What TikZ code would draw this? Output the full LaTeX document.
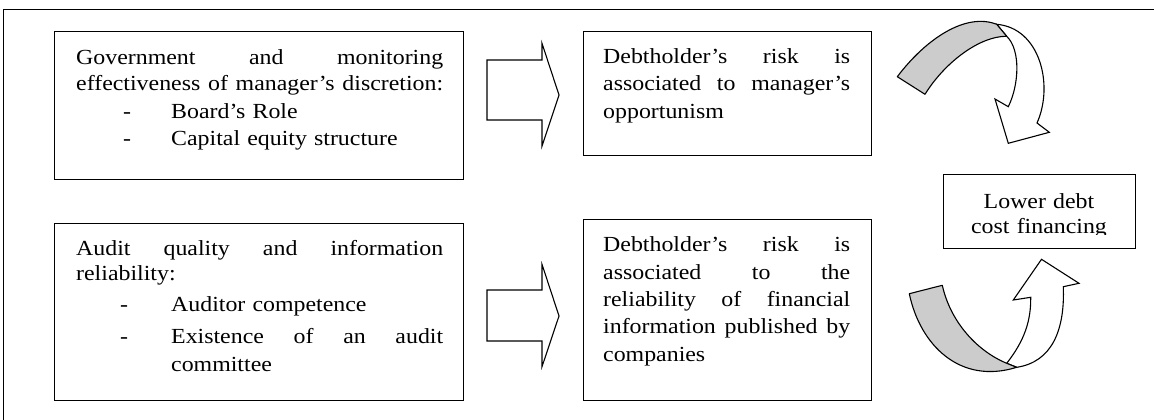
\documentclass[tikz,border=0pt]{standalone}
\usepackage{fontspec}
\setmainfont{Liberation Serif}[FakeStretch=1.11]
\usetikzlibrary{calc}
\definecolor{bandgray}{RGB}{204,204,204}
\newcommand{\jline}[2]{\leavevmode\hbox to #1{\spaceskip=3pt plus 1fil\relax #2}}
\begin{document}
\begin{tikzpicture}[x=1pt,y=-1pt,
  box/.style={draw, line width=1.1pt, inner sep=0pt, anchor=north west},
  txt/.style={inner sep=0pt, anchor=base west, align=left, font=\fontsize{21.5}{27.4}\selectfont},
  blk/.style={draw, line width=1.1pt, fill=white, line join=miter},
  band/.style={draw, line width=1.1pt, fill=bandgray, line join=round},
  wband/.style={draw, line width=1.1pt, fill=white, line join=miter}]
\useasboundingbox (0,0) rectangle (1154,420);
% outer frame
\draw[line width=1.8pt, line join=miter] (1154,9.5) -- (3.5,9.5) -- (3.5,420);
% boxes
\node[box, minimum width=409, minimum height=148] (b1) at (54,31) {};
\node[box, minimum width=288, minimum height=124] (b2) at (583,31) {};
\node[box, minimum width=409, minimum height=177] (b3) at (54,223) {};
\node[box, minimum width=288, minimum height=181] (b4) at (583,219) {};
\node[box, minimum width=192, minimum height=74] (b5) at (943,174) {};
% texts
\node[txt, text width=367] (t1) at (76,64.3) {\jline{367pt}{Government and monitoring}\\[-1.7pt]
\jline{367pt}{effectiveness of manager’s discretion:}\\[0.9pt]
\makebox[95pt][l]{\hspace*{47pt}-}Board’s Role\\
\makebox[95pt][l]{\hspace*{47pt}-}Capital equity structure};
\node[txt, text width=367] (t3) at (76,255) {\jline{367pt}{Audit quality and information}\\[-2.4pt]
reliability:\\[4.3pt]
\makebox[95pt][l]{\hspace*{44pt}-}Auditor competence\\[4.2pt]
\makebox[95pt][l]{\hspace*{44pt}-}\jline{272pt}{Existence of an audit}\\[1pt]
\hspace*{95pt}committee};
\node[txt, text width=247] (t2) at (603,63.3) {\jline{247pt}{Debtholder’s risk is}\\
\jline{247pt}{associated to manager’s}\\
opportunism};
\node[txt, text width=247] (t4) at (603,251.7) {\jline{247pt}{Debtholder’s risk is}\\
\jline{247pt}{associated to the}\\
\jline{247pt}{reliability of financial}\\
\jline{247pt}{information published by}\\
companies};
\begin{scope}
\clip (943,174) rectangle (1135,234.5);
\node[txt, anchor=base, align=center, text width=192] (t5) at (1039,208.3) {Lower debt\\[-2.4pt]cost financing};
\end{scope}
% block arrows
\draw[blk] (487,60) -- (542,60) -- (542,43.3) -- (559,95) -- (542,146) -- (542,120) -- (487,120) -- cycle;
\draw[blk] (487,290) -- (542,290) -- (542,264.3) -- (559,316) -- (542,366.7) -- (542,341) -- (487,341) -- cycle;
% curved arrow top
\draw[wband] (996.7,24.3) .. controls (1040,28) and (1054,85) .. (1037,123) -- (1049.3,132.3) -- (1008.3,143.3) -- (995,99) -- (1008.3,106.7) .. controls (1019,85) and (1021,50) .. (1006.7,36.3) -- cycle;
\draw[band] (897.3,76.7) .. controls (925,40) and (965,12) .. (996.7,24.3) -- (1006.7,36.3) .. controls (980,36) and (945,62) .. (925,94.3) -- cycle;
% curved arrow bottom
\draw[wband] (1006.7,363.3) .. controls (1025,340) and (1031,320) .. (1030.7,297.3) -- (1013.3,300) -- (1041.5,259.3) -- (1079,283.3) -- (1063.3,286.7) .. controls (1065,330) and (1052,362) .. (1016.7,367.3) -- cycle;
\draw[band] (909.3,293.7) .. controls (920,345) and (960,385) .. (1016.7,367.3) -- (1006.7,363.3) .. controls (975,350) and (950,320) .. (942.3,285.3) -- cycle;
\end{tikzpicture}
\end{document}
